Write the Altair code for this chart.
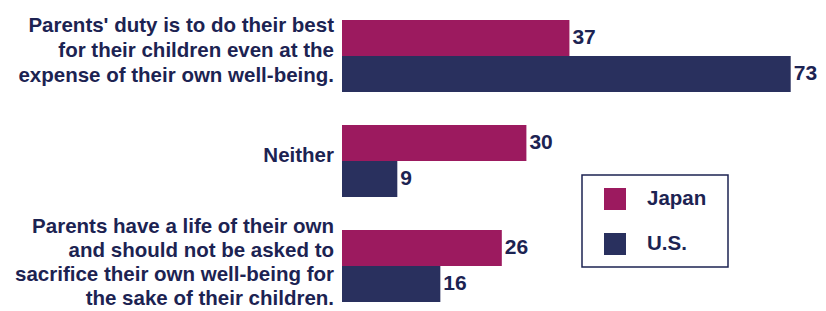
import altair as alt
import pandas as pd

categories = [
    "Parents' duty is to do their best\nfor their children even at the\nexpense of their own well-being.",
    "Neither",
    "Parents have a life of their own\nand should not be asked to\nsacrifice their own well-being for\nthe sake of their children.",
]
series = ["Japan", "U.S."]
japan = [37, 30, 26]
us = [73, 9, 16]

rows = []
for c, j, u in zip(categories, japan, us):
    rows.append({"cat": c, "country": "Japan", "value": j})
    rows.append({"cat": c, "country": "U.S.", "value": u})
df = pd.DataFrame(rows)
cat_df = pd.DataFrame({"cat": categories})

TEXT = "#1c2352"
FONT = "Liberation Sans"
LHS = [25, 25, 24.3]

y_enc = alt.Y("cat:N", sort=categories, axis=None,
              scale=alt.Scale(paddingInner=0.314, paddingOuter=0))
yoff = alt.YOffset("country:N", sort=series, scale=alt.Scale(paddingInner=0, paddingOuter=0))
x_enc = alt.X("value:Q", axis=None, scale=alt.Scale(domain=[0, 75], nice=False))

bars = alt.Chart(df).mark_bar(cornerRadius=0).encode(
    x=x_enc, y=y_enc, yOffset=yoff,
    color=alt.Color("country:N", sort=series,
                    scale=alt.Scale(domain=series, range=["#9c1a5f", "#29305e"]),
                    legend=alt.Legend(title=None, orient="none", legendX=262, legendY=168,
                                      symbolType="square", symbolSize=484, symbolStrokeWidth=0,
                                      labelFontSize=20.5, labelFont=FONT, labelFontWeight="bold",
                                      labelColor=TEXT, labelOffset=21, rowPadding=23, padding=0)),
)

values = alt.Chart(df).mark_text(align="left", baseline="middle", dx=3, fontSize=21,
                                 font=FONT, fontWeight="bold", color=TEXT).encode(
    x=x_enc, y=y_enc, yOffset=yoff, text="value:Q")

label_layers = []
extra = [-5, -5, -3]
for i, c in enumerate(categories):
    n = c.count("\n") + 1
    dy = -(n - 1) / 2 * LHS[i] + extra[i]
    label_layers.append(
        alt.Chart(cat_df).transform_filter(alt.datum.cat == c).mark_text(
            align="right", baseline="middle", fontSize=20.5, font=FONT,
            fontWeight="bold", color=TEXT, lineBreak="\n", lineHeight=LHS[i], dy=dy).encode(
            y=y_enc, x=alt.value(-8), text="cat:N")
    )

box = alt.Chart(cat_df.head(1)).mark_rect(fill=None, stroke=TEXT, strokeWidth=1.5).encode(
    x=alt.value(240), x2=alt.value(386), y=alt.value(155), y2=alt.value(247))

chart = alt.layer(bars, values, *label_layers, box).properties(
    width=461, height=282,
    autosize=alt.AutoSizeParams(type="none"),
    padding={"left": 334, "top": 12, "right": 15, "bottom": 12},
    background="white",
).configure_view(stroke=None)

chart.save("out.html", embed_options={"renderer": "svg", "actions": False})
